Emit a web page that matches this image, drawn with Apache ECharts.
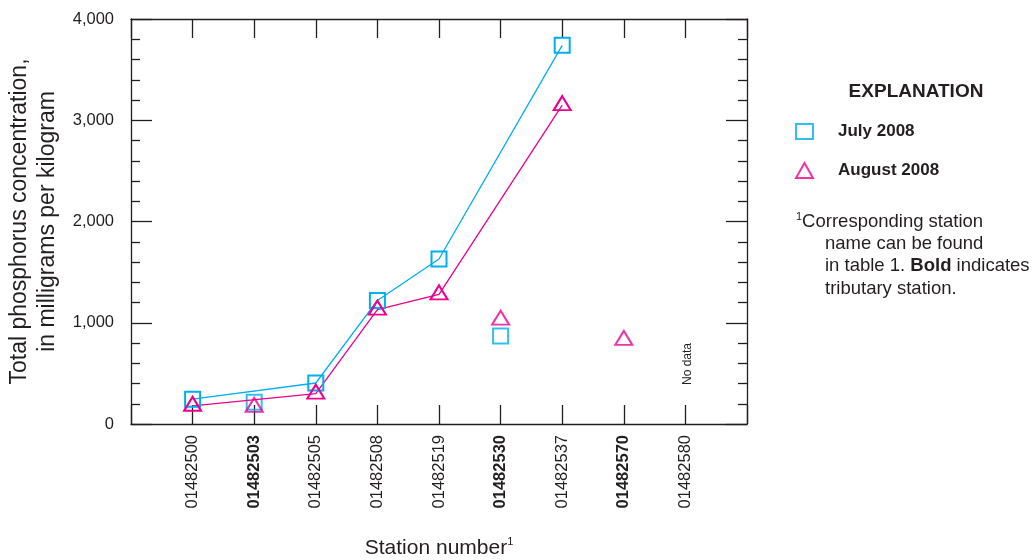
<!DOCTYPE html>
<html><head><meta charset="utf-8">
<script src="https://cdn.jsdelivr.net/npm/echarts@6/dist/echarts.min.js"></script>
<style>html,body{margin:0;padding:0;background:#fff}#c{width:1035px;height:560px}</style>
</head><body><div id="c"></div>
<script>
// ---- data ----
const stations = ['01482500','01482503','01482505','01482508','01482519','01482530','01482537','01482570','01482580'];
const tributary = [false, true, false, false, false, true, false, true, false];
const july2008   = [245, 215, 405, 1220, 1630, 870, 3740, null, null];
const august2008 = [180, 170, 300, 1130, 1280, 1030, 3150, 830, null];
const yMin = 0, yMax = 4000, yStep = 1000;
const seriesNames = ['July 2008', 'August 2008'];

// ---- style ----
const FONT = "'Liberation Sans', Arial, sans-serif";
const INK = '#231f20';
const BLUE = '#00aeef';
const PINK = '#ec008c';
const CLEAR = 'rgba(0,0,0,0)';

function mainPts(vals) {
  const out = [];
  vals.forEach((v, i) => { if (v != null && !tributary[i]) out.push([i, v]); });
  return out;
}
function tribPts(vals) {
  const out = [];
  vals.forEach((v, i) => { if (v != null && tributary[i]) out.push([i, v]); });
  return out;
}

const sq = { symbol: 'rect', symbolSize: 15, itemStyle: { color: CLEAR, borderColor: BLUE, borderWidth: 2 } };
const tri = { symbol: 'triangle', symbolSize: [17, 14], symbolOffset: [0, -2], itemStyle: { color: CLEAR, borderColor: PINK, borderWidth: 2 } };

const axisLine = { show: true, onZero: false, lineStyle: { color: INK, width: 1.3 } };
const tickStyle = { color: INK, width: 1.3 };

const chart = echarts.init(document.getElementById('c'), null, { renderer: 'canvas' });
chart.setOption({
  animation: false,
  backgroundColor: '#fff',
  textStyle: { fontFamily: FONT, color: INK },
  grid: { left: 131, right: 288, top: 19, bottom: 136, containLabel: false, outerBoundsMode: 'none' },
  xAxis: [
    {
      type: 'value', min: -1, max: stations.length, interval: 1, position: 'bottom',
      axisLine: axisLine,
      axisTick: { show: true, inside: true, length: 19, lineStyle: tickStyle },
      splitLine: { show: false },
      axisLabel: {
        rotate: 90, margin: 11, fontSize: 16.5, fontFamily: FONT, color: INK,
        formatter: function (v) {
          const i = Math.round(v);
          if (i < 0 || i >= stations.length) return '';
          return tributary[i] ? '{b|' + stations[i] + '}' : '{n|' + stations[i] + '}';
        },
        rich: {
          n: { fontSize: 16.5, fontFamily: FONT, color: INK },
          b: { fontSize: 16.5, fontFamily: FONT, color: INK, fontWeight: 'bold' }
        }
      },
      name: '{a|Station number}{s|1}', nameLocation: 'middle', nameGap: 112,
      nameTextStyle: {
        rich: {
          a: { fontSize: 21, fontFamily: FONT, color: INK, lineHeight: 24 },
          s: { fontSize: 11, fontFamily: FONT, color: INK, verticalAlign: 'top', lineHeight: 14 }
        }
      }
    },
    {
      type: 'value', min: -1, max: stations.length, interval: 1, position: 'top',
      axisLine: axisLine,
      axisTick: { show: true, inside: true, length: 19, lineStyle: tickStyle },
      splitLine: { show: false },
      axisLabel: { show: false }
    }
  ],
  yAxis: [
    {
      type: 'value', min: yMin, max: yMax, interval: yStep, position: 'left',
      axisLine: axisLine,
      axisTick: { show: true, inside: true, length: 21, lineStyle: tickStyle },
      minorTick: { show: true, splitNumber: 5, length: 9, lineStyle: tickStyle },
      splitLine: { show: false },
      axisLabel: {
        margin: 17, fontSize: 16.5, fontFamily: FONT, color: INK,
        formatter: v => v.toLocaleString('en-US')
      },
      name: 'Total phosphorus concentration,\nin milligrams per kilogram',
      nameLocation: 'middle', nameGap: 60,
      nameTextStyle: { fontSize: 23, fontFamily: FONT, color: INK, lineHeight: 28, align: 'center' }
    },
    {
      type: 'value', min: yMin, max: yMax, interval: yStep, position: 'right',
      axisLine: axisLine,
      axisTick: { show: true, inside: true, length: 21, lineStyle: tickStyle },
      minorTick: { show: true, splitNumber: 5, length: 9, lineStyle: tickStyle },
      splitLine: { show: false },
      axisLabel: { show: false }
    }
  ],
  legend: {
    orient: 'vertical', left: 790, top: 118, itemWidth: 17, itemHeight: 15, itemGap: 22,
    textStyle: { fontSize: 17, fontWeight: 'bold', fontFamily: FONT, color: INK, padding: [0, 0, 0, 20] },
    data: [
      { name: seriesNames[0], icon: 'rect', itemStyle: { color: CLEAR, borderColor: BLUE, borderWidth: 2 } },
      { name: seriesNames[1], icon: 'triangle', itemStyle: { color: CLEAR, borderColor: PINK, borderWidth: 2 } }
    ]
  },
  series: [
    Object.assign({ type: 'scatter', name: seriesNames[0], data: tribPts(july2008) }, sq),
    Object.assign({ type: 'scatter', name: seriesNames[1], data: tribPts(august2008) }, tri),
    Object.assign({ type: 'line', name: seriesNames[0], data: mainPts(july2008), lineStyle: { color: BLUE, width: 1.3 } }, sq),
    Object.assign({ type: 'line', name: seriesNames[1], data: mainPts(august2008), lineStyle: { color: PINK, width: 1.3 } }, tri)
  ],
  graphic: [
    { type: 'text', x: 916, y: 92, style: { text: 'EXPLANATION', align: 'center', verticalAlign: 'middle', fontSize: 19, fontWeight: 'bold', fontFamily: FONT, fill: INK } },
    { type: 'text', x: 796, y: 222, style: { text: '{s|1}{n|Corresponding station}', verticalAlign: 'middle', rich: {
        s: { fontSize: 11, fontFamily: FONT, fill: INK, verticalAlign: 'top', lineHeight: 22 },
        n: { fontSize: 18.5, fontFamily: FONT, fill: INK, lineHeight: 22 } } } },
    { type: 'text', x: 825, y: 244, style: { text: 'name can be found', verticalAlign: 'middle', fontSize: 18.5, fontFamily: FONT, fill: INK } },
    { type: 'text', x: 825, y: 266, style: { text: '{n|in table 1. }{b|Bold}{n| indicates}', verticalAlign: 'middle', rich: {
        n: { fontSize: 18.5, fontFamily: FONT, fill: INK },
        b: { fontSize: 18.5, fontFamily: FONT, fill: INK, fontWeight: 'bold' } } } },
    { type: 'text', x: 825, y: 289, style: { text: 'tributary station.', verticalAlign: 'middle', fontSize: 18.5, fontFamily: FONT, fill: INK } },
    { type: 'text', x: 688, y: 364, rotation: Math.PI / 2, style: { text: 'No data', align: 'center', verticalAlign: 'middle', fontSize: 12, fontFamily: FONT, fill: INK } }
  ]
});
</script>
</body></html>
